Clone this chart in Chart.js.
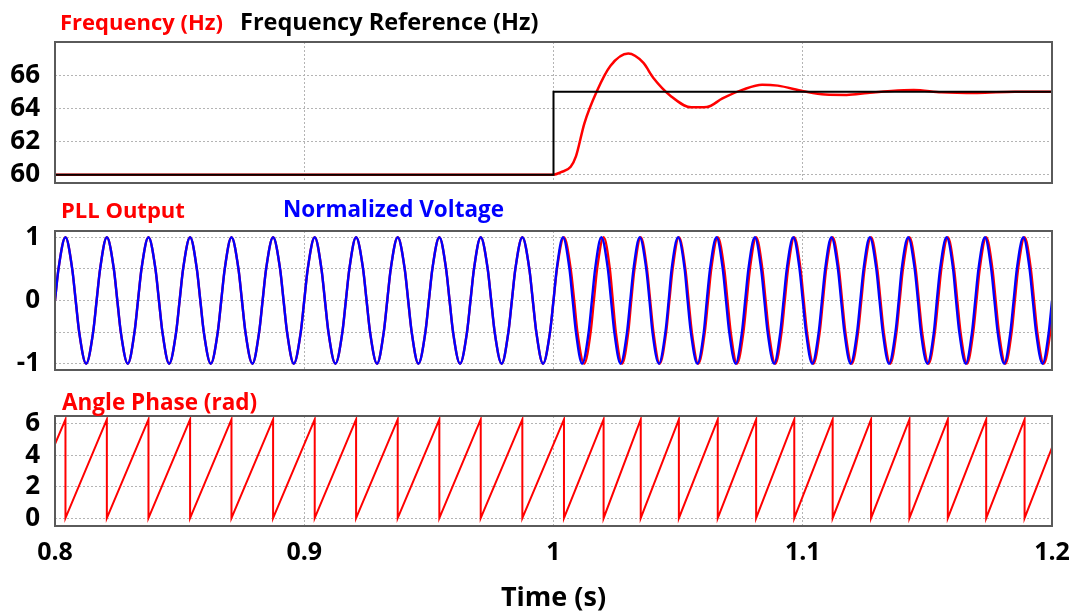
<!DOCTYPE html>
<html><head><meta charset="utf-8">
<script src="https://cdn.jsdelivr.net/npm/chart.js@4.4.1/dist/chart.umd.min.js"></script>
<style>
html,body{margin:0;padding:0;background:#fff;}
#wrap{position:relative;width:1080px;height:615px;overflow:hidden;font-family:"Open Sans",Lato,sans-serif;}
canvas{position:absolute;left:0;}
.lbl{position:absolute;font-weight:bold;font-size:22.5px;line-height:24px;white-space:nowrap;}
</style></head><body>
<div id="wrap">
<canvas id="c1"></canvas><canvas id="c2"></canvas><canvas id="c3"></canvas>
<div class="lbl" style="left:60px;top:9px;color:#ff0000;font-size:22px">Frequency (Hz)</div>
<div class="lbl" style="left:240px;top:9px;color:#000;font-size:23.5px">Frequency Reference (Hz)</div>
<div class="lbl" style="left:61px;top:197px;color:#ff0000;font-size:22px">PLL Output</div>
<div class="lbl" style="left:283px;top:197px;color:#0000ff">Normalized Voltage</div>
<div class="lbl" style="left:62px;top:390px;color:#ff0000">Angle Phase (rad)</div>
</div>
<script>
// ---------- data ----------
const xTicks = [0.8, 0.9, 1.0, 1.1, 1.2];
const freqTicks = [60, 62, 64, 66];
const voltTicks = [-1, -0.5, 0, 0.5, 1];
const phaseTicks = [0, 2, 4, 6];

// Panel 1: frequency (Hz)
const freqTimes  = [0.8, 1.0, 1.003, 1.0069, 1.009, 1.0124, 1.0173, 1.0228, 1.030, 1.036, 1.040, 1.047, 1.0553, 1.0615, 1.0678, 1.076, 1.0837, 1.09, 1.1003, 1.109, 1.1176, 1.126, 1.1355, 1.1445, 1.1556, 1.170, 1.185, 1.2];
const freqValues = [60, 60, 60.15, 60.48, 61.1, 63.1, 65.0, 66.55, 67.3, 66.75, 65.85, 64.75, 64.06, 64.08, 64.6, 65.13, 65.43, 65.37, 65.03, 64.83, 64.81, 64.93, 65.05, 65.1, 64.97, 64.93, 65.0, 65.0];
const refTimes  = [0.8, 1.0, 1.0, 1.2];
const refValues = [60, 60, 65, 65];

// Panel 2: normalized voltage — times where the wave is at 0, peak, trough, and crosses the ±0.5 grid lines
const waveAmp = 1;
const waveHalf = 0.5;
const voltZeros = [0.8000, 0.8083, 0.8167, 0.8250, 0.8333, 0.8417, 0.8500, 0.8583, 0.8667, 0.8750, 0.8833, 0.8917, 0.9000, 0.9083, 0.9167, 0.9250, 0.9333, 0.9417, 0.9500, 0.9583, 0.9667, 0.9750, 0.9833, 0.9917, 1.0000, 1.0077, 1.0154, 1.0231, 1.0308, 1.0385, 1.0462, 1.0538, 1.0615, 1.0692, 1.0769, 1.0846, 1.0923, 1.1000, 1.1077, 1.1154, 1.1231, 1.1308, 1.1385, 1.1462, 1.1538, 1.1615, 1.1692, 1.1769, 1.1846, 1.1923, 1.2000];
const voltPeaks = [0.8042, 0.8208, 0.8375, 0.8542, 0.8708, 0.8875, 0.9042, 0.9208, 0.9375, 0.9542, 0.9708, 0.9875, 1.0038, 1.0192, 1.0346, 1.0500, 1.0654, 1.0808, 1.0962, 1.1115, 1.1269, 1.1423, 1.1577, 1.1731, 1.1885];
const voltTroughs = [0.8125, 0.8292, 0.8458, 0.8625, 0.8792, 0.8958, 0.9125, 0.9292, 0.9458, 0.9625, 0.9792, 0.9958, 1.0115, 1.0269, 1.0423, 1.0577, 1.0731, 1.0885, 1.1038, 1.1192, 1.1346, 1.1500, 1.1654, 1.1808, 1.1962];
const voltHalfUp = [0.8014, 0.8069, 0.8181, 0.8236, 0.8347, 0.8403, 0.8514, 0.8569, 0.8681, 0.8736, 0.8847, 0.8903, 0.9014, 0.9069, 0.9181, 0.9236, 0.9347, 0.9403, 0.9514, 0.9569, 0.9681, 0.9736, 0.9847, 0.9903, 1.0013, 1.0064, 1.0167, 1.0218, 1.0321, 1.0372, 1.0474, 1.0526, 1.0628, 1.0679, 1.0782, 1.0833, 1.0936, 1.0987, 1.1090, 1.1141, 1.1244, 1.1295, 1.1397, 1.1449, 1.1551, 1.1603, 1.1705, 1.1756, 1.1859, 1.1910];
const voltHalfDown = [0.8097, 0.8153, 0.8264, 0.8319, 0.8431, 0.8486, 0.8597, 0.8653, 0.8764, 0.8819, 0.8931, 0.8986, 0.9097, 0.9153, 0.9264, 0.9319, 0.9431, 0.9486, 0.9597, 0.9653, 0.9764, 0.9819, 0.9931, 0.9986, 1.0090, 1.0141, 1.0244, 1.0295, 1.0397, 1.0449, 1.0551, 1.0603, 1.0705, 1.0756, 1.0859, 1.0910, 1.1013, 1.1064, 1.1167, 1.1218, 1.1321, 1.1372, 1.1474, 1.1526, 1.1628, 1.1679, 1.1782, 1.1833, 1.1936, 1.1987];

// PLL output after the step (before 1.0 it coincides with the voltage)
const pllZeros = [1.0000, 1.0083, 1.0162, 1.0238, 1.0312, 1.0388, 1.0465, 1.0542, 1.0620, 1.0698, 1.0775, 1.0851, 1.0928, 1.1004, 1.1081, 1.1158, 1.1235, 1.1312, 1.1389, 1.1466, 1.1543, 1.1620, 1.1697, 1.1774, 1.1851, 1.1928];
const pllPeaks = [1.0042, 1.0201, 1.0350, 1.0503, 1.0659, 1.0813, 1.0966, 1.1120, 1.1274, 1.1428, 1.1582, 1.1736, 1.1890];
const pllTroughs = [1.0123, 1.0275, 1.0426, 1.0581, 1.0736, 1.0890, 1.1043, 1.1197, 1.1351, 1.1505, 1.1659, 1.1813, 1.1967];
const pllHalfUp = [1.0014, 1.0069, 1.0175, 1.0226, 1.0325, 1.0375, 1.0478, 1.0529, 1.0633, 1.0685, 1.0788, 1.0838, 1.0941, 1.0991, 1.1094, 1.1145, 1.1248, 1.1299, 1.1402, 1.1453, 1.1556, 1.1607, 1.1710, 1.1761, 1.1864, 1.1915];
const pllHalfDown = [1.0096, 1.0149, 1.0250, 1.0300, 1.0401, 1.0452, 1.0555, 1.0607, 1.0711, 1.0762, 1.0864, 1.0915, 1.1017, 1.1068, 1.1171, 1.1222, 1.1325, 1.1376, 1.1479, 1.1530, 1.1633, 1.1684, 1.1787, 1.1838, 1.1941, 1.1993];
const pllEndValue = -0.22;

// Panel 3: angle phase (rad) sawtooth
const phaseStart = 4.71;
const phaseTop = 6.28;
const phaseBottom = 0;
const phaseEnd = 4.49;

// ---------- building the datasets ----------
const STEP = 1.0;
function pts(xs, ys){ return xs.map((x,i)=>({x:x, y:ys[i]})); }
function waveEvents(zeros, peaks, troughs, halfUp, halfDown){
  const a = zeros.map(t=>({x:t,y:0}))
    .concat(peaks.map(t=>({x:t,y:waveAmp})))
    .concat(troughs.map(t=>({x:t,y:-waveAmp})))
    .concat(halfUp.map(t=>({x:t,y:waveHalf})))
    .concat(halfDown.map(t=>({x:t,y:-waveHalf})));
  a.sort((p,q)=>p.x-q.x);
  return a;
}
const before = t=>t<STEP;
const voltData = waveEvents(voltZeros, voltPeaks, voltTroughs, voltHalfUp, voltHalfDown);
const pllData = waveEvents(voltZeros.filter(before), voltPeaks.filter(before), voltTroughs.filter(before), voltHalfUp.filter(before), voltHalfDown.filter(before))
  .concat(waveEvents(pllZeros, pllPeaks, pllTroughs, pllHalfUp, pllHalfDown));
pllData.push({x:1.2, y:pllEndValue});

const wraps = voltPeaks.filter(before).concat(pllPeaks);
const phaseData = [{x:0.8, y:phaseStart}];
wraps.forEach(t=>{ phaseData.push({x:t,y:phaseTop}); phaseData.push({x:t,y:phaseBottom}); });
phaseData.push({x:1.2, y:phaseEnd});

// ---------- charts ----------
const FONT = '"Open Sans", Lato, sans-serif';
const GRID = '#b4b4b4';
const RED = '#ff0000', BLUE = '#0000ff';

const framePlugin = {
  id:'frame',
  afterDraw(chart){
    const {ctx, chartArea:a} = chart;
    ctx.save();
    ctx.strokeStyle = '#5a5a5a'; ctx.lineWidth = 2;
    ctx.strokeRect(a.left, a.top, a.right-a.left, a.bottom-a.top);
    ctx.restore();
  }
};

function makeChart(id, top, height, padTop, padBottom, datasets, yMin, yMax, yTickVals, yLabel, showX){
  const cv = document.getElementById(id);
  cv.width = 1080; cv.height = height; cv.style.top = top + 'px';
  return new Chart(cv, {
    type:'line',
    data:{datasets:datasets},
    options:{
      responsive:false, animation:false, events:[], parsing:false,
      layout:{padding:{top:padTop, bottom:padBottom, left:0, right:28}},
      plugins:{legend:{display:false}, tooltip:{enabled:false}},
      elements:{point:{radius:0}},
      scales:{
        x:{
          type:'linear', min:0.8, max:1.2,
          afterBuildTicks:s=>{ s.ticks = xTicks.map(v=>({value:v})); },
          afterFit:s=>{ s.height = showX ? 89 : 0; s.paddingLeft = 0; s.paddingRight = 0; },
          grid:{color:GRID, lineWidth:1, drawTicks:false},
          border:{display:false, dash:[2,2]},
          ticks:{display:showX, padding:12, color:'#000', maxRotation:0, autoSkip:false,
                 font:{family:FONT, size:25, weight:'bold'}, callback:v=>String(v)},
          title:{display:showX, text:'Time (s)', color:'#000', padding:{top:0,bottom:0},
                 font:{family:FONT, size:27, weight:'bold'}}
        },
        y:{
          type:'linear', min:yMin, max:yMax,
          afterBuildTicks:s=>{ s.ticks = yTickVals.map(v=>({value:v})); },
          afterFit:s=>{ s.width = 55; s.paddingTop = 0; s.paddingBottom = 0; },
          grid:{color:GRID, lineWidth:1, drawTicks:false},
          border:{display:false, dash:[2,2]},
          ticks:{padding:15, color:'#000', autoSkip:false,
                 font:{family:FONT, size:26, weight:'bold'}, callback:yLabel}
        }
      }
    },
    plugins:[framePlugin]
  });
}

makeChart('c1', 32, 161, 10, 10, [
  {data:pts(refTimes, refValues), borderColor:'#000', borderWidth:2, tension:0, fill:false},
  {data:pts(freqTimes, freqValues), borderColor:RED, borderWidth:2.5, cubicInterpolationMode:'monotone', fill:false}
], 59.5, 68, freqTicks, v=>String(v), false);

makeChart('c2', 221, 159, 10, 10, [
  {data:voltData, borderColor:BLUE, borderWidth:2.4, cubicInterpolationMode:'monotone', fill:false},
  {data:pllData, borderColor:RED, borderWidth:2.4, cubicInterpolationMode:'monotone', fill:false}
], -1.1, 1.1, voltTicks, v=>(Number.isInteger(v) ? String(v) : ''), false);

makeChart('c3', 406, 209, 10, 0, [
  {data:phaseData, borderColor:RED, borderWidth:2, tension:0, fill:false}
], -0.5, 6.5, phaseTicks, v=>String(v), true);
</script>
</body></html>
